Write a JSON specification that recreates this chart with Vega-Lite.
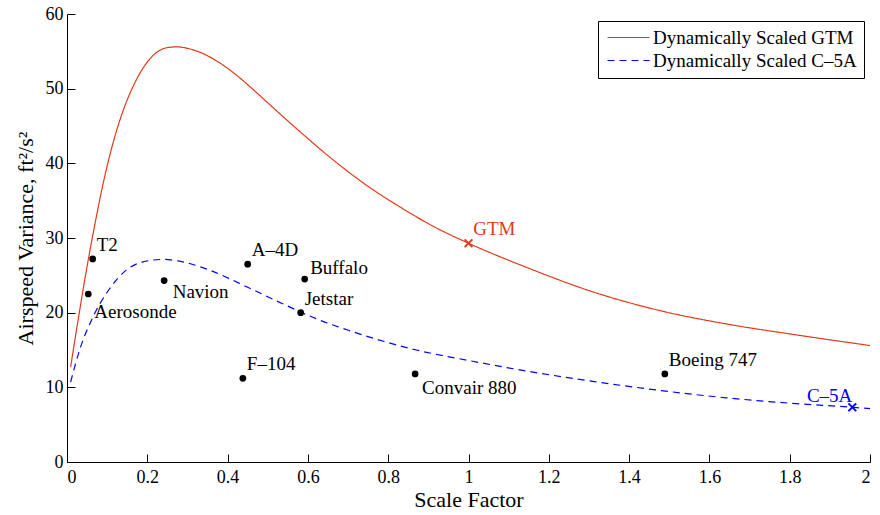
{
  "$schema": "https://vega.github.io/schema/vega-lite/v6.json",
  "width": 803,
  "height": 448,
  "autosize": {"type": "none"},
  "padding": {"left": 67, "top": 14, "right": 10, "bottom": 53},
  "background": "white",
  "config": {
    "view": {"stroke": null},
    "font": "Liberation Serif, Times New Roman, serif",
    "axis": {
      "grid": false,
      "domainColor": "black",
      "domainWidth": 1,
      "tickColor": "black",
      "tickWidth": 1,
      "tickSize": -8,
      "labelColor": "black",
      "labelFont": "Liberation Serif, Times New Roman, serif",
      "labelFontSize": 18,
      "titleColor": "black",
      "titleFont": "Liberation Serif, Times New Roman, serif",
      "titleFontSize": 22,
      "titleFontWeight": "normal"
    },
    "legend": {
      "orient": "none",
      "legendX": 531,
      "legendY": 7,
      "strokeColor": "black",
      "fillColor": "white",
      "padding": 7,
      "labelFont": "Liberation Serif, Times New Roman, serif",
      "labelFontSize": 19,
      "labelColor": "black",
      "labelLimit": 400,
      "labelOffset": 29,
      "rowPadding": 3,
      "symbolType": "M-1,0H5",
      "symbolSize": 196,
      "symbolStrokeWidth": 1.2
    }
  },
  "datasets": {
    "curves": [
      {"series": "Dynamically Scaled GTM", "scale": 0.009, "variance": 12.7},
      {"series": "Dynamically Scaled GTM", "scale": 0.03, "variance": 19.8},
      {"series": "Dynamically Scaled GTM", "scale": 0.05, "variance": 26.2},
      {"series": "Dynamically Scaled GTM", "scale": 0.07, "variance": 32.0},
      {"series": "Dynamically Scaled GTM", "scale": 0.09, "variance": 37.3},
      {"series": "Dynamically Scaled GTM", "scale": 0.11, "variance": 41.8},
      {"series": "Dynamically Scaled GTM", "scale": 0.13, "variance": 45.5},
      {"series": "Dynamically Scaled GTM", "scale": 0.15, "variance": 48.5},
      {"series": "Dynamically Scaled GTM", "scale": 0.17, "variance": 50.9},
      {"series": "Dynamically Scaled GTM", "scale": 0.19, "variance": 52.8},
      {"series": "Dynamically Scaled GTM", "scale": 0.21, "variance": 54.2},
      {"series": "Dynamically Scaled GTM", "scale": 0.23, "variance": 55.1},
      {"series": "Dynamically Scaled GTM", "scale": 0.25, "variance": 55.5},
      {"series": "Dynamically Scaled GTM", "scale": 0.275, "variance": 55.6},
      {"series": "Dynamically Scaled GTM", "scale": 0.3, "variance": 55.4},
      {"series": "Dynamically Scaled GTM", "scale": 0.33, "variance": 54.9},
      {"series": "Dynamically Scaled GTM", "scale": 0.37, "variance": 53.8},
      {"series": "Dynamically Scaled GTM", "scale": 0.413, "variance": 52.2},
      {"series": "Dynamically Scaled GTM", "scale": 0.455, "variance": 50.3},
      {"series": "Dynamically Scaled GTM", "scale": 0.496, "variance": 48.3},
      {"series": "Dynamically Scaled GTM", "scale": 0.579, "variance": 44.3},
      {"series": "Dynamically Scaled GTM", "scale": 0.662, "variance": 40.5},
      {"series": "Dynamically Scaled GTM", "scale": 0.745, "variance": 37.1},
      {"series": "Dynamically Scaled GTM", "scale": 0.828, "variance": 34.2},
      {"series": "Dynamically Scaled GTM", "scale": 0.911, "variance": 31.6},
      {"series": "Dynamically Scaled GTM", "scale": 1.0, "variance": 29.3},
      {"series": "Dynamically Scaled GTM", "scale": 1.143, "variance": 26.1},
      {"series": "Dynamically Scaled GTM", "scale": 1.309, "variance": 22.8},
      {"series": "Dynamically Scaled GTM", "scale": 1.475, "variance": 20.3},
      {"series": "Dynamically Scaled GTM", "scale": 1.641, "variance": 18.5},
      {"series": "Dynamically Scaled GTM", "scale": 1.807, "variance": 17.1},
      {"series": "Dynamically Scaled GTM", "scale": 2.0, "variance": 15.6},
      {"series": "Dynamically Scaled C–5A", "scale": 0.009, "variance": 10.7},
      {"series": "Dynamically Scaled C–5A", "scale": 0.0314, "variance": 15.0},
      {"series": "Dynamically Scaled C–5A", "scale": 0.0645, "variance": 19.4},
      {"series": "Dynamically Scaled C–5A", "scale": 0.106, "variance": 23.2},
      {"series": "Dynamically Scaled C–5A", "scale": 0.1476, "variance": 25.7},
      {"series": "Dynamically Scaled C–5A", "scale": 0.189, "variance": 26.8},
      {"series": "Dynamically Scaled C–5A", "scale": 0.239, "variance": 27.13},
      {"series": "Dynamically Scaled C–5A", "scale": 0.28, "variance": 26.9},
      {"series": "Dynamically Scaled C–5A", "scale": 0.355, "variance": 25.7},
      {"series": "Dynamically Scaled C–5A", "scale": 0.454, "variance": 23.3},
      {"series": "Dynamically Scaled C–5A", "scale": 0.537, "variance": 21.2},
      {"series": "Dynamically Scaled C–5A", "scale": 0.62, "variance": 19.2},
      {"series": "Dynamically Scaled C–5A", "scale": 0.703, "variance": 17.6},
      {"series": "Dynamically Scaled C–5A", "scale": 0.786, "variance": 16.2},
      {"series": "Dynamically Scaled C–5A", "scale": 0.87, "variance": 15.0},
      {"series": "Dynamically Scaled C–5A", "scale": 1.0, "variance": 13.6},
      {"series": "Dynamically Scaled C–5A", "scale": 1.143, "variance": 12.2},
      {"series": "Dynamically Scaled C–5A", "scale": 1.309, "variance": 10.8},
      {"series": "Dynamically Scaled C–5A", "scale": 1.475, "variance": 9.6},
      {"series": "Dynamically Scaled C–5A", "scale": 1.641, "variance": 8.6},
      {"series": "Dynamically Scaled C–5A", "scale": 1.807, "variance": 7.85},
      {"series": "Dynamically Scaled C–5A", "scale": 1.956, "variance": 7.33},
      {"series": "Dynamically Scaled C–5A", "scale": 2.0, "variance": 7.15}
    ],
    "aircraft": [
      {"name": "T2", "scale": 0.064, "variance": 27.2},
      {"name": "Aerosonde", "scale": 0.053, "variance": 22.5},
      {"name": "Navion", "scale": 0.242, "variance": 24.3},
      {"name": "A–4D", "scale": 0.45, "variance": 26.5},
      {"name": "Buffalo", "scale": 0.592, "variance": 24.5},
      {"name": "Jetstar", "scale": 0.582, "variance": 20.0},
      {"name": "F–104", "scale": 0.438, "variance": 11.2},
      {"name": "Convair 880", "scale": 0.867, "variance": 11.8},
      {"name": "Boeing 747", "scale": 1.489, "variance": 11.8}
    ],
    "scaled": [
      {"name": "GTM", "scale": 1.0, "variance": 29.3},
      {"name": "C–5A", "scale": 1.956, "variance": 7.33}
    ]
  },
  "layer": [
    {
      "data": {"name": "curves"},
      "mark": {"type": "line", "strokeWidth": 1.2, "interpolate": "monotone"},
      "encoding": {
        "x": {
          "field": "scale", "type": "quantitative",
          "scale": {"domain": [0, 2], "nice": false},
          "axis": {"title": "Scale Factor", "values": [0, 0.2, 0.4, 0.6, 0.8, 1, 1.2, 1.4, 1.6, 1.8, 2], "format": "~g", "labelPadding": 14, "titlePadding": 3}
        },
        "y": {
          "field": "variance", "type": "quantitative",
          "scale": {"domain": [0, 60], "nice": false},
          "axis": {"title": "Airspeed Variance, ft²/s²", "values": [0, 10, 20, 30, 40, 50, 60], "labelPadding": 12, "titlePadding": 8}
        },
        "color": {
          "field": "series", "type": "nominal",
          "scale": {"domain": ["Dynamically Scaled GTM", "Dynamically Scaled C–5A"], "range": ["#e3391b", "#0000ff"]},
          "legend": {"title": null}
        },
        "strokeDash": {
          "field": "series", "type": "nominal",
          "scale": {"domain": ["Dynamically Scaled GTM", "Dynamically Scaled C–5A"], "range": [[1, 0], [7, 5]]},
          "legend": {"title": null}
        }
      }
    },
    {
      "data": {"name": "aircraft"},
      "mark": {"type": "point", "shape": "circle", "filled": true, "size": 45, "color": "black", "opacity": 1},
      "encoding": {
        "x": {"field": "scale", "type": "quantitative"},
        "y": {"field": "variance", "type": "quantitative"}
      }
    },
    {
      "data": {"name": "aircraft"},
      "transform": [{"filter": {"field": "name", "oneOf": ["T2", "A–4D", "Jetstar", "F–104", "Boeing 747"]}}],
      "mark": {"type": "text", "align": "left", "baseline": "alphabetic", "dx": 4, "dy": -8, "fontSize": 19, "font": "Liberation Serif, Times New Roman, serif", "color": "black"},
      "encoding": {
        "x": {"field": "scale", "type": "quantitative"},
        "y": {"field": "variance", "type": "quantitative"},
        "text": {"field": "name"}
      }
    },
    {
      "data": {"name": "aircraft"},
      "transform": [{"filter": {"field": "name", "equal": "Buffalo"}}],
      "mark": {"type": "text", "align": "left", "baseline": "alphabetic", "dx": 5.5, "dy": -5, "fontSize": 19, "font": "Liberation Serif, Times New Roman, serif", "color": "black"},
      "encoding": {
        "x": {"field": "scale", "type": "quantitative"},
        "y": {"field": "variance", "type": "quantitative"},
        "text": {"field": "name"}
      }
    },
    {
      "data": {"name": "aircraft"},
      "transform": [{"filter": {"field": "name", "equal": "Aerosonde"}}],
      "mark": {"type": "text", "align": "left", "baseline": "alphabetic", "dx": 6, "dy": 23.5, "fontSize": 19, "font": "Liberation Serif, Times New Roman, serif", "color": "black"},
      "encoding": {
        "x": {"field": "scale", "type": "quantitative"},
        "y": {"field": "variance", "type": "quantitative"},
        "text": {"field": "name"}
      }
    },
    {
      "data": {"name": "aircraft"},
      "transform": [{"filter": {"field": "name", "equal": "Navion"}}],
      "mark": {"type": "text", "align": "left", "baseline": "alphabetic", "dx": 8.5, "dy": 17.5, "fontSize": 19, "font": "Liberation Serif, Times New Roman, serif", "color": "black"},
      "encoding": {
        "x": {"field": "scale", "type": "quantitative"},
        "y": {"field": "variance", "type": "quantitative"},
        "text": {"field": "name"}
      }
    },
    {
      "data": {"name": "aircraft"},
      "transform": [{"filter": {"field": "name", "equal": "Convair 880"}}],
      "mark": {"type": "text", "align": "left", "baseline": "alphabetic", "dx": 7, "dy": 20, "fontSize": 19, "font": "Liberation Serif, Times New Roman, serif", "color": "black"},
      "encoding": {
        "x": {"field": "scale", "type": "quantitative"},
        "y": {"field": "variance", "type": "quantitative"},
        "text": {"field": "name"}
      }
    },
    {
      "data": {"name": "scaled"},
      "transform": [{"filter": {"field": "name", "equal": "GTM"}}],
      "mark": {"type": "point", "shape": "M-1,-1L1,1M1,-1L-1,1", "size": 60, "strokeWidth": 2, "filled": false, "color": "#e3391b", "opacity": 1},
      "encoding": {
        "x": {"field": "scale", "type": "quantitative"},
        "y": {"field": "variance", "type": "quantitative"}
      }
    },
    {
      "data": {"name": "scaled"},
      "transform": [{"filter": {"field": "name", "equal": "GTM"}}],
      "mark": {"type": "text", "align": "left", "baseline": "alphabetic", "dx": 4.7, "dy": -8.3, "fontSize": 19, "font": "Liberation Serif, Times New Roman, serif", "color": "#e3391b"},
      "encoding": {
        "x": {"field": "scale", "type": "quantitative"},
        "y": {"field": "variance", "type": "quantitative"},
        "text": {"field": "name"}
      }
    },
    {
      "data": {"name": "scaled"},
      "transform": [{"filter": {"field": "name", "equal": "C–5A"}}],
      "mark": {"type": "point", "shape": "M-1,-1L1,1M1,-1L-1,1", "size": 60, "strokeWidth": 2, "filled": false, "color": "#0000ff", "opacity": 1},
      "encoding": {
        "x": {"field": "scale", "type": "quantitative"},
        "y": {"field": "variance", "type": "quantitative"}
      }
    },
    {
      "data": {"name": "scaled"},
      "transform": [{"filter": {"field": "name", "equal": "C–5A"}}],
      "mark": {"type": "text", "align": "right", "baseline": "alphabetic", "dx": 0, "dy": -5, "fontSize": 19, "font": "Liberation Serif, Times New Roman, serif", "color": "#0000ff"},
      "encoding": {
        "x": {"field": "scale", "type": "quantitative"},
        "y": {"field": "variance", "type": "quantitative"},
        "text": {"field": "name"}
      }
    }
  ]
}
